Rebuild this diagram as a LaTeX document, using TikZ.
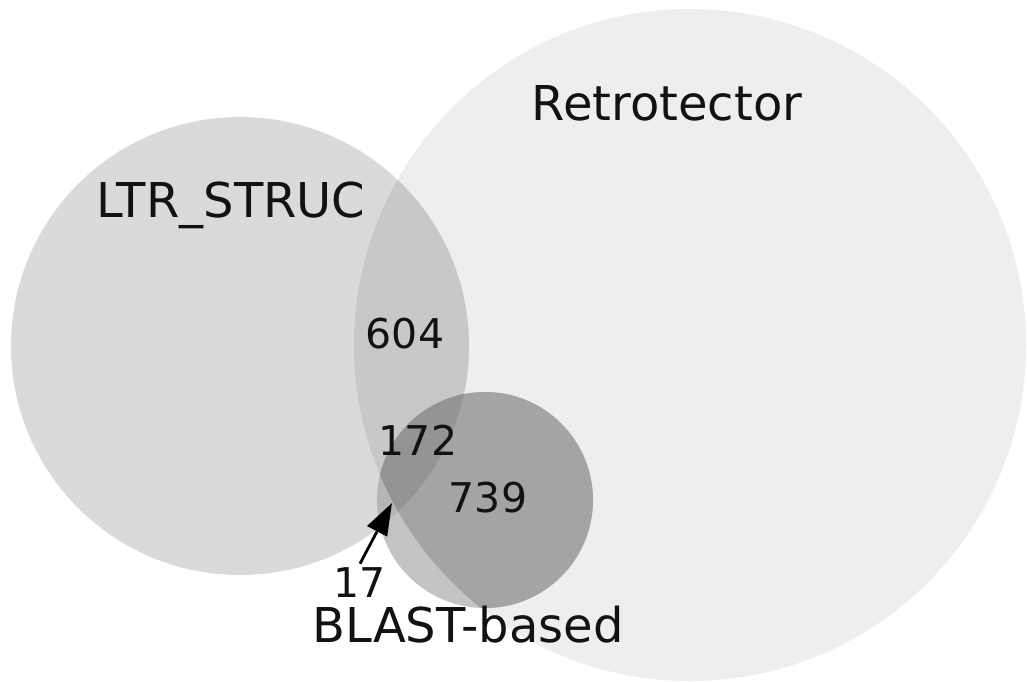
\documentclass[tikz,border=0pt]{standalone}
\usepackage{fontspec}
\setmainfont{DejaVu Sans}
\usetikzlibrary{arrows.meta}
\definecolor{cR}{gray}{0.933}
\definecolor{cL}{gray}{0.855}
\definecolor{cB}{gray}{0.77}
\definecolor{cLR}{gray}{0.785}
\definecolor{cBR}{gray}{0.645}
\definecolor{cBL}{gray}{0.71}
\definecolor{cAll}{gray}{0.58}
\definecolor{ink}{gray}{0.07}
\begin{document}
\begin{tikzpicture}[x=0.5pt,y=0.5pt,
  setlabel/.style={font=\fontsize{24}{28}\selectfont, text=ink, inner sep=0pt, anchor=base},
  numlabel/.style={font=\fontsize{20.5}{24}\selectfont, text=ink, inner sep=0pt, anchor=base},
  pointer/.style={draw=black, line width=1.4pt, -{Triangle[length=16pt,width=11pt]}}]
\useasboundingbox (0,0) rectangle (1027,-681);
\fill[white] (0,0) rectangle (1027,-681);
\def\Rc{(690,-345) circle (168pt)}
\def\Lc{(240,-346) circle (114.5pt)}
\def\Bc{(485,-500) circle (54pt)}
% single sets
\fill[cR] \Rc;
\fill[cL] \Lc;
\fill[cB] \Bc;
% pairwise overlaps
\begin{scope}\clip \Lc; \fill[cLR] \Rc;\end{scope}
\begin{scope}\clip \Bc; \fill[cBR] \Rc;\end{scope}
\begin{scope}\clip \Bc; \fill[cBL] \Lc;\end{scope}
% triple overlap
\begin{scope}\clip \Bc; \clip \Lc; \fill[cAll] \Rc;\end{scope}
% labels
\node[setlabel] (retro) at (667,-120) {Retrotector};
\node[setlabel] (ltr) at (231,-217) {LTR\_STRUC};
\node[setlabel] (blast) at (468,-642) {BLAST-based};
\node[numlabel] (n604) at (405,-348) {604};
\node[numlabel] (n172) at (418,-455) {172};
\node[numlabel] (n739) at (488,-512) {739};
\node[numlabel, inner sep=1.5pt] (n17) at (360,-597) {17};
\coordinate (tip) at (392,-503);
\draw[pointer] (n17.north) -- (tip);
\end{tikzpicture}
\end{document}
